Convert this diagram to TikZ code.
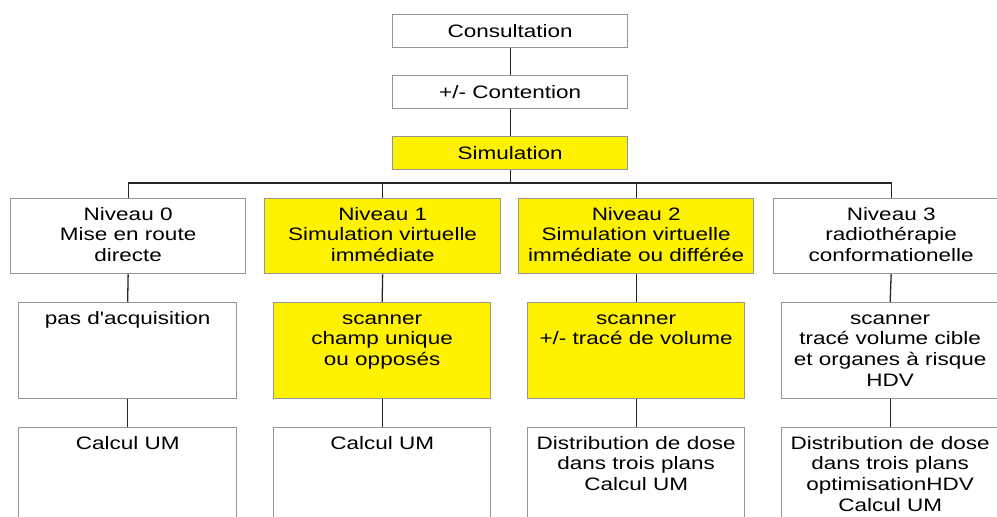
\documentclass[tikz,border=0pt]{standalone}
\usepackage{fontspec}
\newfontfamily\boxfont{Liberation Sans}[FakeStretch=1.25]
\begin{document}
\begin{tikzpicture}[x=1pt,y=-1pt,
  boxw/.style={draw=black!42, line width=1.3pt, rectangle, inner sep=0pt, anchor=north west, fill=white},
  boxy/.style={boxw, fill=yellow},
  conn/.style={draw=black!85, line width=1.3pt},
  txt/.style={font=\boxfont\fontsize{18}{20.7}\selectfont, align=center, inner sep=0pt, text=black},
  toptxt/.style={txt, anchor=north, yshift=-7.5pt}]
\useasboundingbox (0,0) rectangle (997,517);
\clip (0,0) rectangle (997,517);
\fill[white] (0,0) rectangle (997,517);
% top column
\node[boxw, minimum width=235pt, minimum height=33pt] (cons) at (392,14) {};
\node[boxw, minimum width=235pt, minimum height=33pt] (cont) at (392,75) {};
\node[boxy, minimum width=235pt, minimum height=33pt] (sim) at (392,136) {};
% row 1
\node[boxw, minimum width=235pt, minimum height=75pt] (n0) at (10,198) {};
\node[boxy, minimum width=236pt, minimum height=75pt] (n1) at (264,198) {};
\node[boxy, minimum width=235pt, minimum height=75pt] (n2) at (518,198) {};
\node[boxw, minimum width=235pt, minimum height=75pt] (n3) at (773,198) {};
% row 2
\node[boxw, minimum width=218pt, minimum height=96pt] (a0) at (18,302) {};
\node[boxy, minimum width=217pt, minimum height=96pt] (a1) at (273,302) {};
\node[boxy, minimum width=217pt, minimum height=96pt] (a2) at (527,302) {};
\node[boxw, minimum width=217pt, minimum height=96pt] (a3) at (781,302) {};
% row 3
\node[boxw, minimum width=218pt, minimum height=110pt] (c0) at (18,427) {};
\node[boxw, minimum width=217pt, minimum height=110pt] (c1) at (273,427) {};
\node[boxw, minimum width=217pt, minimum height=110pt] (c2) at (527,427) {};
\node[boxw, minimum width=217pt, minimum height=110pt] (c3) at (781,427) {};
% connectors
\draw[conn] (cons.south) -- (cont.north);
\draw[conn] (cont.south) -- (sim.north);
\draw[conn] (sim.south) -- ++(0,14);
\draw[conn] (n0.north) -- ++(0,-15) -| (n3.north);
\draw[conn] (n1.north) -- ++(0,-15);
\draw[conn] (n2.north) -- ++(0,-15);
\draw[conn] (n0.south) -- (a0.north);
\draw[conn] (n1.south) -- (a1.north);
\draw[conn] (n2.south) -- (a2.north);
\draw[conn] (n3.south) -- (a3.north);
\draw[conn] (a0.south) -- (c0.north);
\draw[conn] (a1.south) -- (c1.north);
\draw[conn] (a2.south) -- (c2.north);
\draw[conn] (a3.south) -- (c3.north);
% texts
\node[txt, anchor=base] (tcons) at ([yshift=-6.5pt]cons.center) {Consultation};
\node[txt, anchor=base] (tcont) at ([yshift=-6.5pt]cont.center) {+/- Contention};
\node[txt, anchor=base] (tsim) at ([yshift=-6.5pt]sim.center) {Simulation};
\node[toptxt] (tn0) at (n0.north) {\strut Niveau 0\\Mise en route\\directe};
\node[toptxt] (tn1) at (n1.north) {\strut Niveau 1\\Simulation virtuelle\\immédiate};
\node[toptxt] (tn2) at (n2.north) {\strut Niveau 2\\Simulation virtuelle\\immédiate ou différée};
\node[toptxt] (tn3) at (n3.north) {\strut Niveau 3\\radiothérapie\\conformationelle};
\node[toptxt] (ta0) at (a0.north) {\strut pas d'acquisition};
\node[toptxt] (ta1) at (a1.north) {\strut scanner\\champ unique\\ou opposés};
\node[toptxt] (ta2) at (a2.north) {\strut scanner\\+/- tracé de volume};
\node[toptxt] (ta3) at (a3.north) {\strut scanner\\tracé volume cible\\et organes à risque\\HDV};
\node[toptxt] (tc0) at (c0.north) {\strut Calcul UM};
\node[toptxt] (tc1) at (c1.north) {\strut Calcul UM};
\node[toptxt] (tc2) at (c2.north) {\strut Distribution de dose\\dans trois plans\\Calcul UM};
\node[toptxt] (tc3) at (c3.north) {\strut Distribution de dose\\dans trois plans\\optimisationHDV\\Calcul UM};
\end{tikzpicture}
\end{document}
